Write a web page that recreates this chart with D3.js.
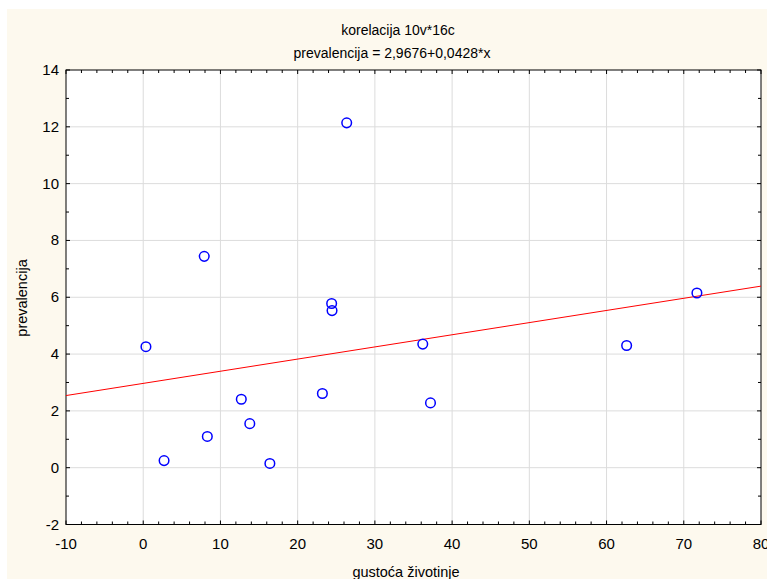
<!DOCTYPE html>
<html>
<head>
<meta charset="utf-8">
<script src="https://cdn.jsdelivr.net/npm/d3@7"></script>
<style>
  body { margin: 0; background: #fff; }
  text { font-family: "Liberation Sans", Arial, sans-serif; fill: #000; }
</style>
</head>
<body>
<svg id="chart"></svg>
<script>
// gustoća životinje (x) vs prevalencija (y)
var gustoca = [0.35, 2.7, 7.9, 8.3, 12.7, 13.8, 16.4, 23.2, 24.4, 24.45, 26.35, 36.2, 37.2, 62.6, 71.7];
var prevalencija = [4.26, 0.25, 7.44, 1.1, 2.41, 1.55, 0.15, 2.61, 5.78, 5.53, 12.14, 4.35, 2.28, 4.3, 6.15];
var xTicks = [-10, 0, 10, 20, 30, 40, 50, 60, 70, 80];
var yTicks = [-2, 0, 2, 4, 6, 8, 10, 12, 14];
var intercept = 2.9676, slope = 0.0428;

var width = 767, height = 579;
var margin = { top: 70, left: 66 };
var w = 761 - margin.left;
var h = 524.5 - margin.top;

var svg = d3.select("#chart").attr("width", width).attr("height", height);

svg.append("rect")
  .attr("x", 7).attr("y", 9)
  .attr("width", width - 7).attr("height", height - 9)
  .attr("fill", "#fdf9ee");

var g = svg.append("g")
  .attr("transform", "translate(" + margin.left + "," + margin.top + ")");

var x = d3.scaleLinear().domain([-10, 80]).range([0, w]);
var y = d3.scaleLinear().domain([-2, 14]).range([h, 0]);

g.append("rect").attr("width", w).attr("height", h).attr("fill", "#fff");

// grid
g.selectAll(".gx").data(xTicks.slice(1, -1)).enter().append("line")
  .attr("x1", function(d) { return x(d); }).attr("x2", function(d) { return x(d); })
  .attr("y1", 0).attr("y2", h)
  .attr("stroke", "#dcdcdc").attr("stroke-width", 1);
g.selectAll(".gy").data(yTicks.slice(1, -1)).enter().append("line")
  .attr("y1", function(d) { return y(d); }).attr("y2", function(d) { return y(d); })
  .attr("x1", 0).attr("x2", w)
  .attr("stroke", "#dcdcdc").attr("stroke-width", 1);

// inward ticks on all four sides (major + minor)
var xMinor = d3.range(-10, 80.01, 2);
var yMinor = d3.range(-2, 14.01, 1);
function tickLen(d, major) { return major.indexOf(d) >= 0 ? 4 : 3; }
[0, h].forEach(function(yy) {
  var dir = yy === 0 ? 1 : -1;
  g.selectAll(null).data(xMinor).enter().append("line")
    .attr("x1", function(d) { return x(d); }).attr("x2", function(d) { return x(d); })
    .attr("y1", yy).attr("y2", function(d) { return yy + dir * tickLen(d, xTicks); })
    .attr("stroke", "#000");
});
[0, w].forEach(function(xx) {
  var dir = xx === 0 ? 1 : -1;
  g.selectAll(null).data(yMinor).enter().append("line")
    .attr("y1", function(d) { return y(d); }).attr("y2", function(d) { return y(d); })
    .attr("x1", xx).attr("x2", function(d) { return xx + dir * tickLen(d, yTicks); })
    .attr("stroke", "#000");
});

g.append("rect").attr("width", w).attr("height", h)
  .attr("fill", "none").attr("stroke", "#000").attr("stroke-width", 1);

// tick labels
g.selectAll(".xl").data(xTicks).enter().append("text")
  .attr("x", function(d) { return x(d); })
  .attr("y", h + 24)
  .attr("text-anchor", "middle")
  .style("font-size", "15px")
  .text(function(d) { return d; });
g.selectAll(".yl").data(yTicks).enter().append("text")
  .attr("x", -7)
  .attr("y", function(d) { return y(d) + 5; })
  .attr("text-anchor", "end")
  .style("font-size", "15px")
  .text(function(d) { return d; });

// regression line
g.append("line")
  .attr("x1", x(-10)).attr("y1", y(intercept + slope * -10))
  .attr("x2", x(80)).attr("y2", y(intercept + slope * 80))
  .attr("stroke", "#ff0000").attr("stroke-width", 1);

// points
g.selectAll(".pt").data(gustoca).enter().append("circle")
  .attr("cx", function(d) { return x(d); })
  .attr("cy", function(d, i) { return y(prevalencija[i]); })
  .attr("r", 4.8)
  .attr("fill", "none")
  .attr("stroke", "#0000ff")
  .attr("stroke-width", 1.5);

// titles
svg.append("text").attr("x", 398).attr("y", 35).attr("text-anchor", "middle")
  .style("font-size", "14px").text("korelacija 10v*16c");
svg.append("text").attr("x", 392).attr("y", 58).attr("text-anchor", "middle")
  .style("font-size", "14px").text("prevalencija = 2,9676+0,0428*x");
svg.append("text").attr("x", 406).attr("y", 577).attr("text-anchor", "middle")
  .style("font-size", "14.5px").text("gustoća životinje");
svg.append("text")
  .attr("transform", "translate(27," + 298 + ") rotate(-90)")
  .attr("text-anchor", "middle")
  .style("font-size", "14.5px").text("prevalencija");
</script>
</body>
</html>
